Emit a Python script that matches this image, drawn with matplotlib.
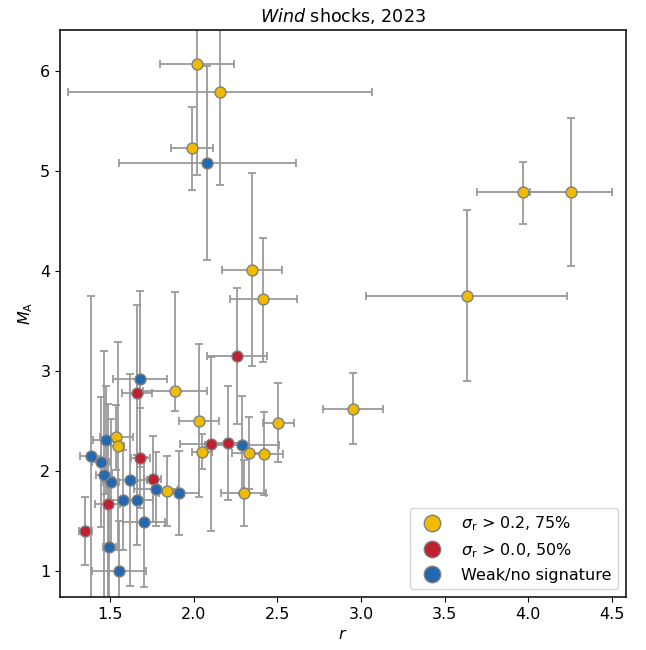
import numpy as np
import matplotlib
matplotlib.use("Agg")
import matplotlib.pyplot as plt

# sigma_r > 0.2, 75% (yellow)
yel_x = [2.02, 2.158, 1.99, 2.349, 2.415, 3.632, 3.971, 4.256, 2.954, 1.889,
         2.03, 2.506, 1.536, 1.544, 2.05, 2.329, 2.419, 1.841, 2.299]
yel_y = [6.07, 5.79, 5.23, 4.01, 3.72, 3.75, 4.79, 4.79, 2.62, 2.80,
         2.50, 2.48, 2.34, 2.25, 2.19, 2.18, 2.17, 1.80, 1.78]
yel_xerr = [0.22, 0.91, 0.125, 0.18, 0.20, 0.60, 0.28, 0.245, 0.18, 0.19,
            0.12, 0.095, 0.10, 0.04, 0.06, 0.10, 0.115, 0.06, 0.135]
yel_ylo = [1.11, 0.93, 0.42, 0.96, 0.63, 0.85, 0.32, 0.74, 0.35, 0.20,
           0.76, 0.39, 0.33, 1.04, 0.17, 0.36, 0.41, 0.35, 0.33]
yel_yhi = [1.11, 0.93, 0.41, 0.97, 0.61, 0.86, 0.30, 0.74, 0.36, 0.99,
           0.77, 0.40, 0.32, 1.04, 0.18, 0.36, 0.42, 0.35, 0.33]

# sigma_r > 0.0, 50% (red)
red_x = [2.257, 1.661, 1.681, 1.753, 1.484, 1.352, 2.100, 2.205]
red_y = [3.15, 2.78, 2.13, 1.92, 1.67, 1.40, 2.27, 2.28]
red_xerr = [0.18, 0.09, 0.055, 0.05, 0.077, 0.04, 0.18, 0.09]
red_yerr = [0.68, 0.88, 0.50, 0.43, 1.0, 0.34, 0.87, 0.57]

# weak / no signature (blue)
blu_x = [2.080, 1.679, 1.474, 1.382, 1.442, 1.462, 1.504, 1.621,
         1.773, 1.911, 1.574, 1.663, 1.703, 1.494, 1.552, 2.289]
blu_y = [5.08, 2.92, 2.31, 2.15, 2.09, 1.96, 1.89, 1.91,
         1.82, 1.78, 1.71, 1.71, 1.49, 1.24, 1.00, 2.26]
blu_xerr = [0.53, 0.16, 0.08, 0.06, 0.05, 0.05, 0.05, 0.10,
            0.13, 0.12, 0.07, 0.09, 0.125, 0.04, 0.16, 0.22]
blu_yerr = [0.97, 0.88, 0.54, 1.6, 0.65, 1.24, 0.63, 1.06,
            0.37, 0.42, 0.5, 0.45, 0.65, 0.6, 0.5, 0.49]

labels = [r"$\sigma_\mathrm{r}$ > 0.2, 75%", r"$\sigma_\mathrm{r}$ > 0.0, 50%",
          "Weak/no signature"]
colors = ["#EEBB00", "#C0202F", "#2468B0"]

plt.rcParams['font.size'] = 11.5

fig = plt.figure(figsize=(6.46, 6.5), dpi=100)
ax = fig.add_axes([0.093, 0.0815, 0.876, 0.8725])

groups = [
    (yel_x, yel_y, yel_xerr, [yel_ylo, yel_yhi]),
    (red_x, red_y, red_xerr, red_yerr),
    (blu_x, blu_y, blu_xerr, blu_yerr),
]

# error bars first, markers on top
for gx, gy, gxe, gye in groups:
    ax.errorbar(gx, gy, xerr=gxe, yerr=gye, fmt="none", ecolor="#9a9a9a",
                elinewidth=1.3, capsize=3.2, capthick=1.3, zorder=1)

for (gx, gy, gxe, gye), lab, col in zip(groups, labels, colors):
    ax.plot(gx, gy, "o", ms=7.9, mfc=col, mec="#808080", mew=1.0,
            label=lab, zorder=3)

ax.set_xlim(1.2, 4.585)
ax.set_ylim(0.74, 6.41)
ax.set_xticks([1.5, 2.0, 2.5, 3.0, 3.5, 4.0, 4.5])
ax.set_yticks([1, 2, 3, 4, 5, 6])
for s in ax.spines.values():
    s.set_linewidth(1.1)
ax.set_xlabel(r"$r$")
ax.set_ylabel(r"$M_\mathrm{A}$")
ax.set_title(r"$\mathit{Wind}$ shocks, 2023", fontsize=12.6)
ax.legend(loc="lower right", markerscale=1.5)

fig.savefig("out.png", dpi=100)
